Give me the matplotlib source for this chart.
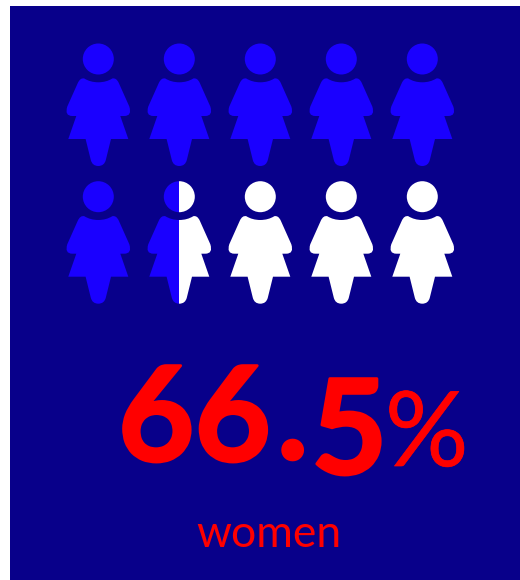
#!/usr/bin/env python
import numpy as np
import matplotlib
matplotlib.use('Agg')
import matplotlib.pyplot as plt
import matplotlib.patheffects as pe
from matplotlib.path import Path
from matplotlib.patches import PathPatch, Circle, Rectangle

# chart values
value_pct = 66.5
n_icons = 10
n_filled = 6.5
label = 'women'
value_parts = ['66', '.', '5']
unit = '%'

bg = '#08008a'
on_col = '#1a00ff'
off_col = 'white'
txt_col = '#ff0000'

# outline of the body, relative to the head centre, in pixels
M, L, Q = Path.MOVETO, Path.LINETO, Path.CURVE3
body_v = [(0, 23.3), (8, 23.3), (14, 19.5), (18, 18.5), (20.5, 24), (31, 47.5), (34, 57), (26, 57), (22, 57),
          (30, 80), (12.7, 80), (7.5, 101), (6, 107), (0, 107), (-6, 107), (-7.5, 101), (-12.7, 80), (-30, 80),
          (-22, 57), (-26, 57), (-34, 57), (-31, 47.5), (-20.5, 24), (-18, 18.5), (-14, 19.5), (-8, 23.3), (0, 23.3)]
body_c = [M, Q, Q, Q, Q, L, Q, Q, L, L, L, L, Q, Q, Q, Q, L, L, L, L, Q, Q, L, Q, Q, Q, Q]


def draw_person(ax, cx, cy, col, x0, x1):
  # x0..x1 is the part of the icon that shows in this colour
  head = Circle((cx, cy), 15.5, fc=col, ec='none')
  body = PathPatch(Path([(cx + a, cy + b) for a, b in body_v], body_c), fc=col, ec='none')
  for p in (head, body):
    ax.add_patch(p)
    p.set_clip_path(Rectangle((x0, cy - 20), x1 - x0, 140, transform=ax.transData))


def thick(w):
  return [pe.withStroke(linewidth=w, foreground=txt_col)]


fig = plt.figure(figsize=(5.2, 5.8), dpi=100)
ax = fig.add_axes([0, 0, 1, 1])
ax.set_xlim(0, 520)
ax.set_ylim(580, 0)
ax.axis('off')
ax.add_patch(Rectangle((10, 6), 510, 574, fc=bg, ec='none'))

xs = np.linspace(98.3, 422.3, 5)
ys = [59, 196.7]
for i in range(n_icons):
  cx = xs[i % 5]
  cy = ys[i // 5]
  frac = min(max(n_filled - i, 0), 1)
  # share of the icon is taken over an 80 px wide box
  split = cx - 40 + frac * 80
  if frac > 0:
    draw_person(ax, cx, cy, on_col, cx - 40, split)
  if frac < 1:
    draw_person(ax, cx, cy, off_col, split, cx + 40)

font = 'Lato'
big = dict(family=font, weight='bold', fontsize=95, color=txt_col, va='baseline', ha='left', path_effects=thick(2))
ax.text(118, 461, value_parts[0], **big)
ax.text(277, 459, value_parts[1], **big)
ax.text(311, 474, value_parts[2], **big)
ax.text(385, 466, unit, family=font, fontsize=75, color=txt_col, va='baseline', ha='left', path_effects=thick(0.5))
ax.text(269, 547, label, family=font, fontsize=32, color=txt_col, va='baseline', ha='center')

fig.savefig('out.png', dpi=100, facecolor='white')
